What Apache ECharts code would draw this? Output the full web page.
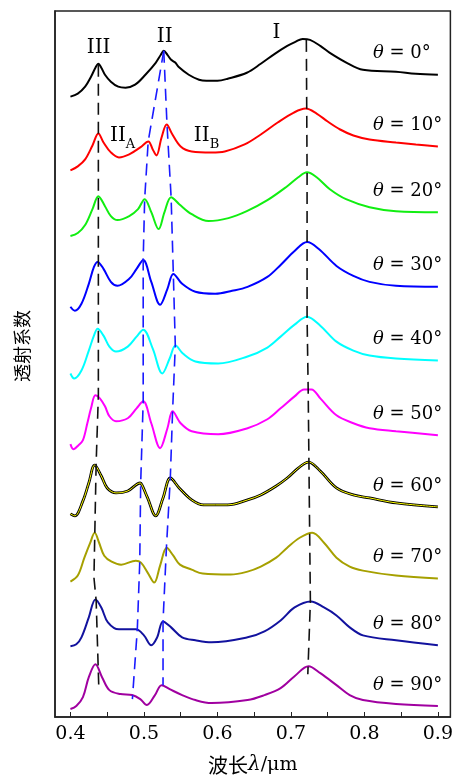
<!DOCTYPE html>
<html>
<head>
<meta charset="utf-8">
<script src="https://cdn.jsdelivr.net/npm/echarts@6.0.0/dist/echarts.min.js"></script>
<style>
html, body {margin: 0; padding: 0; background: #fff;}
#main {width: 456px; height: 780px;}
</style>
</head>
<body>
<div id="main"></div>
<script>
// 各入射角的透射谱 [波长 μm, 透射系数(已叠加偏移)]
var angles = [0, 10, 20, 30, 40, 50, 60, 70, 80, 90];
var colors = ['#000000', '#ff0000', '#11ee11', '#0000ff', '#00ffff', '#ff00ff', '#ffff00', '#a6a000', '#12129e', '#a000a0'];

var t0 = [[0.400,6.23],[0.410,6.26],[0.420,6.33],[0.428,6.43],[0.434,6.52],[0.438,6.56],[0.442,6.52],[0.447,6.45],[0.455,6.38],[0.465,6.33],[0.475,6.32],[0.488,6.35],[0.502,6.45],[0.516,6.57],[0.523,6.65],[0.527,6.69],[0.532,6.65],[0.537,6.60],[0.543,6.57],[0.547,6.53],[0.561,6.45],[0.575,6.40],[0.585,6.39],[0.600,6.39],[0.614,6.41],[0.640,6.47],[0.659,6.56],[0.678,6.66],[0.695,6.74],[0.706,6.78],[0.716,6.81],[0.726,6.80],[0.740,6.74],[0.753,6.67],[0.776,6.57],[0.798,6.50],[0.843,6.48],[0.870,6.46],[0.900,6.45]];
var t10 = [[0.400,5.49],[0.410,5.53],[0.420,5.60],[0.430,5.74],[0.438,5.86],[0.445,5.77],[0.455,5.67],[0.466,5.62],[0.480,5.65],[0.495,5.72],[0.506,5.78],[0.512,5.70],[0.517,5.64],[0.524,5.82],[0.531,5.95],[0.538,5.86],[0.550,5.73],[0.565,5.68],[0.592,5.67],[0.610,5.68],[0.637,5.75],[0.659,5.85],[0.682,5.97],[0.704,6.07],[0.720,6.11],[0.735,6.06],[0.750,5.98],[0.767,5.90],[0.785,5.84],[0.807,5.80],[0.843,5.77],[0.870,5.75],[0.900,5.73]];
var t20 = [[0.400,4.83],[0.410,4.86],[0.420,4.94],[0.430,5.10],[0.438,5.23],[0.447,5.13],[0.455,5.03],[0.464,4.99],[0.480,5.03],[0.492,5.10],[0.501,5.20],[0.510,5.07],[0.520,4.90],[0.528,5.07],[0.537,5.22],[0.548,5.15],[0.565,5.05],[0.588,4.98],[0.615,5.01],[0.640,5.08],[0.668,5.19],[0.695,5.33],[0.710,5.42],[0.722,5.47],[0.735,5.42],[0.753,5.30],[0.775,5.20],[0.807,5.12],[0.843,5.08],[0.900,5.07]];
var t30 = [[0.400,4.12],[0.406,4.08],[0.415,4.15],[0.425,4.35],[0.432,4.52],[0.437,4.57],[0.445,4.50],[0.455,4.37],[0.464,4.33],[0.480,4.40],[0.490,4.50],[0.499,4.59],[0.510,4.37],[0.522,4.14],[0.532,4.30],[0.540,4.45],[0.552,4.35],[0.570,4.27],[0.597,4.25],[0.620,4.28],[0.641,4.32],[0.668,4.42],[0.686,4.54],[0.705,4.68],[0.722,4.77],[0.738,4.70],[0.762,4.53],[0.785,4.43],[0.807,4.37],[0.843,4.33],[0.900,4.32]];
var t40 = [[0.400,3.45],[0.405,3.40],[0.415,3.48],[0.425,3.68],[0.432,3.83],[0.437,3.90],[0.445,3.83],[0.453,3.72],[0.462,3.67],[0.478,3.72],[0.490,3.82],[0.499,3.89],[0.512,3.70],[0.525,3.45],[0.535,3.60],[0.543,3.73],[0.553,3.65],[0.570,3.57],[0.601,3.55],[0.641,3.62],[0.668,3.71],[0.686,3.82],[0.705,3.94],[0.722,4.02],[0.740,3.93],[0.762,3.77],[0.785,3.68],[0.807,3.63],[0.843,3.60],[0.900,3.58]];
var t50 = [[0.400,2.74],[0.404,2.69],[0.411,2.73],[0.417,2.78],[0.423,2.95],[0.428,3.10],[0.434,3.23],[0.440,3.20],[0.447,3.12],[0.453,3.02],[0.462,2.97],[0.478,3.00],[0.490,3.10],[0.499,3.17],[0.510,2.95],[0.522,2.70],[0.532,2.90],[0.539,3.07],[0.550,2.95],[0.565,2.87],[0.601,2.84],[0.641,2.90],[0.668,2.99],[0.686,3.10],[0.705,3.22],[0.718,3.29],[0.728,3.29],[0.740,3.20],[0.762,3.03],[0.785,2.95],[0.807,2.90],[0.843,2.87],[0.900,2.83]];
var t60 = [[0.400,2.04],[0.406,2.02],[0.417,2.17],[0.425,2.35],[0.433,2.53],[0.442,2.42],[0.450,2.30],[0.462,2.25],[0.478,2.27],[0.495,2.35],[0.498,2.32],[0.505,2.20],[0.516,2.02],[0.526,2.20],[0.536,2.40],[0.548,2.30],[0.565,2.18],[0.581,2.13],[0.614,2.13],[0.641,2.18],[0.659,2.23],[0.680,2.32],[0.695,2.40],[0.710,2.50],[0.724,2.56],[0.740,2.47],[0.762,2.30],[0.785,2.23],[0.807,2.20],[0.843,2.15],[0.900,2.11]];
var t70 = [[0.400,1.36],[0.410,1.42],[0.419,1.60],[0.427,1.75],[0.433,1.85],[0.439,1.75],[0.446,1.62],[0.456,1.56],[0.469,1.53],[0.489,1.57],[0.496,1.55],[0.505,1.45],[0.514,1.35],[0.522,1.52],[0.531,1.70],[0.540,1.62],[0.549,1.53],[0.565,1.48],[0.580,1.44],[0.618,1.43],[0.641,1.46],[0.659,1.51],[0.680,1.60],[0.695,1.70],[0.712,1.80],[0.729,1.85],[0.745,1.75],[0.762,1.60],[0.780,1.51],[0.798,1.47],[0.843,1.42],[0.900,1.39]];
var t80 = [[0.400,0.71],[0.408,0.73],[0.415,0.80],[0.425,1.00],[0.434,1.18],[0.442,1.10],[0.451,0.95],[0.466,0.88],[0.489,0.88],[0.500,0.82],[0.510,0.72],[0.518,0.80],[0.526,0.96],[0.537,0.90],[0.552,0.80],[0.570,0.77],[0.592,0.75],[0.641,0.80],[0.664,0.86],[0.686,0.97],[0.705,1.10],[0.727,1.16],[0.745,1.10],[0.762,1.02],[0.780,0.90],[0.798,0.82],[0.843,0.77],[0.900,0.72]];
var t90 = [[0.400,0.08],[0.408,0.11],[0.417,0.20],[0.425,0.40],[0.434,0.53],[0.443,0.40],[0.453,0.27],[0.468,0.23],[0.484,0.22],[0.495,0.18],[0.504,0.12],[0.515,0.22],[0.524,0.32],[0.535,0.28],[0.552,0.22],[0.570,0.17],[0.592,0.14],[0.641,0.17],[0.664,0.22],[0.686,0.29],[0.705,0.41],[0.724,0.51],[0.740,0.44],[0.762,0.32],[0.780,0.22],[0.798,0.17],[0.843,0.13],[0.900,0.11]];
var curves = [t0, t10, t20, t30, t40, t50, t60, t70, t80, t90];

// 峰位移动的虚线
var lineIII = [[0.438,6.55],[0.438,3.23],[0.435,2.55],[0.432,1.40],[0.435,1.17],[0.4385,0.32]];
var lineIIA = [[0.527,6.69],[0.5058,5.78],[0.501,5.20],[0.499,4.59],[0.499,3.89],[0.499,3.17],[0.4956,2.35],[0.4943,1.55],[0.491,0.88],[0.4843,0.18]];
var lineIIB = [[0.527,6.69],[0.5314,5.95],[0.537,5.22],[0.540,4.45],[0.5427,3.73],[0.539,3.07],[0.5359,2.40],[0.5306,1.70],[0.526,0.96],[0.526,0.32]];
var lineI = [[0.721,6.80],[0.722,5.47],[0.722,4.02],[0.7235,3.29],[0.7255,1.85],[0.7265,1.16],[0.723,0.43]];

// 峰的标注
var peakNames = ['{r|III}', '{r|II}', '{r|I}', '{r|II}{s|A}', '{r|II}{s|B}'];
var peakNamePos = [[0.4384,6.74], [0.5283,6.85], [0.6804,6.89], [0.471,5.86], [0.5852,5.86]];

var xTicks = [0.4, 0.45, 0.5, 0.55, 0.6, 0.65, 0.7, 0.75, 0.8, 0.85, 0.9];
var xLabels = [0.4, 0.5, 0.6, 0.7, 0.8, 0.9];

var myChart = echarts.init(document.getElementById('main'));

var serif = 'DejaVu Serif';
var series = [];
curves.forEach(function (c, i) {
    if (angles[i] == 60) {
        // 黄线带黑边
        series.push({
            type: 'line', data: c, showSymbol: false, smooth: 0.35, silent: true,
            lineStyle: {color: '#000', width: 2.8}
        });
        series.push({
            type: 'line', data: c, showSymbol: false, smooth: 0.35, silent: true,
            lineStyle: {color: colors[i], width: 1}
        });
    } else {
        series.push({
            type: 'line', data: c, showSymbol: false, smooth: 0.35, silent: true,
            lineStyle: {color: colors[i], width: 2}
        });
    }
});
[[lineIII, '#111'], [lineIIA, '#1a1aff'], [lineIIB, '#1a1aff'], [lineI, '#111']].forEach(function (d) {
    series.push({
        type: 'line', data: d[0], showSymbol: false, silent: true, z: 5,
        lineStyle: {color: d[1], width: 1.6, type: [12, 7]}
    });
});

var option = {
    animation: false,
    grid: {
        left: 55, right: 2, top: 11, bottom: 60,
        show: true, borderColor: '#222', borderWidth: 1.5
    },
    xAxis: {
        type: 'value', min: 0.379, max: 0.917,
        name: '{a|波长}{b|λ}{c|/μm}',
        nameLocation: 'middle', nameGap: 38,
        nameTextStyle: {
            rich: {
                a: {fontFamily: 'Noto Sans CJK SC', fontSize: 20, color: '#000'},
                b: {fontFamily: serif, fontStyle: 'italic', fontSize: 20, color: '#000'},
                c: {fontFamily: serif, fontSize: 19, color: '#000'}
            }
        },
        axisLine: {lineStyle: {color: '#222', width: 1.5}},
        axisTick: {inside: true, length: 5, customValues: xTicks, lineStyle: {color: '#222'}},
        axisLabel: {
            customValues: xLabels, margin: 8, color: '#000',
            fontFamily: serif, fontSize: 19,
            formatter: function (v) { return v.toFixed(1); }
        },
        splitLine: {show: false}
    },
    yAxis: {
        type: 'value', min: 0, max: 7.09,
        name: '透射系数', nameLocation: 'middle', nameGap: 24, nameRotate: 90,
        nameTextStyle: {fontFamily: 'Noto Sans CJK SC', fontSize: 18, color: '#000', padding: [0, 0, 0, 36]},
        axisLine: {show: true, lineStyle: {color: '#222', width: 1.5}},
        axisTick: {show: false},
        axisLabel: {show: false},
        splitLine: {show: false}
    },
    series: series
};
myChart.setOption(option);

// 角度与峰名的文字
var graphics = [];
curves.forEach(function (c, i) {
    var p = myChart.convertToPixel({gridIndex: 0}, c[c.length - 1]);
    graphics.push({
        type: 'text', x: p[0] - 65, y: p[1] - 21, z: 10,
        style: {
            text: '{t|θ}{n| = ' + angles[i] + '°}',
            verticalAlign: 'middle', align: 'left',
            rich: {
                t: {fontFamily: serif, fontStyle: 'italic', fontSize: 18, fill: '#000'},
                n: {fontFamily: serif, fontSize: 18, fill: '#000'}
            }
        }
    });
});
peakNames.forEach(function (n, i) {
    var p = myChart.convertToPixel({gridIndex: 0}, peakNamePos[i]);
    graphics.push({
        type: 'text', x: p[0], y: p[1], z: 10,
        style: {
            text: n, align: 'center', verticalAlign: 'middle',
            rich: {
                r: {fontFamily: serif, fontSize: 20, fill: '#000', lineHeight: 24, verticalAlign: 'bottom'},
                s: {fontFamily: serif, fontSize: 13, fill: '#000', lineHeight: 24, verticalAlign: 'bottom', padding: [0, 0, -6, 0]}
            }
        }
    });
});
myChart.setOption({graphic: graphics});
</script>
</body>
</html>
